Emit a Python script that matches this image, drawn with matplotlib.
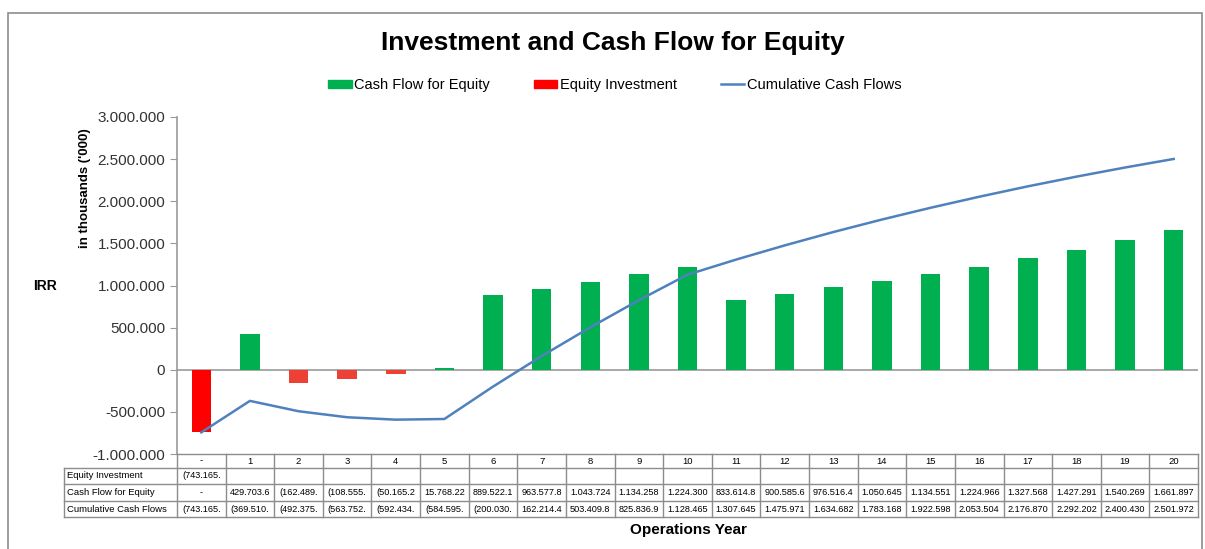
import matplotlib.pyplot as plt
import matplotlib.transforms as mtransforms
from matplotlib.patches import Patch, Rectangle
from matplotlib.lines import Line2D
from matplotlib.ticker import FuncFormatter
import numpy as np

years = ['-'] + [str(i) for i in range(1, 21)]
equity_investment = [-743165.0] + [None] * 20
cash_flow = [0.0, 429703.6, -162489.0, -108555.0, -50165.2, 15768.22, 889522.1,
             963577.8, 1043724.0, 1134258.0, 1224300.0, 833614.8, 900585.6,
             976516.4, 1050645.0, 1134551.0, 1224966.0, 1327568.0, 1427291.0,
             1540269.0, 1661897.0]
cumulative = [-743165.0, -369510.0, -492375.0, -563752.0, -592434.0, -584595.0,
              -200030.0, 162214.4, 503409.8, 825836.9, 1128465.0, 1307645.0,
              1475971.0, 1634682.0, 1783168.0, 1922598.0, 2053504.0, 2176870.0,
              2292202.0, 2400430.0, 2501972.0]
row_labels = ['Equity Investment', 'Cash Flow for Equity', 'Cumulative Cash Flows']

GREEN = '#00B050'
RED = '#FF0000'
NEG = '#EE4136'
BLUE = '#4F81BD'
GRID = '#9A9A9A'

W, H = 1205, 549
fig = plt.figure(figsize=(W / 100, H / 100), dpi=100)
plt.rcParams['font.family'] = ['Liberation Sans', 'DejaVu Sans']


def fy(py):
    return 1 - py / H


def fx(px):
    return px / W


ax = fig.add_axes([fx(177), fy(454), fx(1198) - fx(177), fy(117) - fy(454)])

x = np.arange(len(years))
eq = np.array([np.nan if v is None else v for v in equity_investment])
cf = np.array(cash_flow)
ax.bar(x, eq, width=0.4, color=RED, zorder=2)
ax.bar(x, cf, width=0.4, color=[GREEN if v >= 0 else NEG for v in cf], zorder=2)
ax.plot(x, cumulative, color=BLUE, lw=1.8, zorder=3)
ax.axhline(0, color=GRID, lw=1.2, zorder=1)

ax.set_xlim(-0.5, len(years) - 0.5)
ax.set_ylim(-1000000, 3000000)
ax.set_yticks(np.arange(-1000000, 3000001, 500000))
ax.yaxis.set_major_formatter(FuncFormatter(lambda v, p: f"{int(v):,}".replace(',', '.')))
ax.tick_params(axis='y', labelsize=11, colors=GRID, labelcolor='#333333', length=5)
ax.set_xticks([])
for s in ['top', 'right', 'bottom']:
    ax.spines[s].set_visible(False)
ax.spines['left'].set_color(GRID)
ax.spines['left'].set_linewidth(1.2)

# data table under the axis
trans = mtransforms.blended_transform_factory(ax.transData, fig.transFigure)
rows_y = [454, 468, 484, 501, 517]
lc = '#8C8C8C'
for py in rows_y:
    left = 177 if py == 454 else 64
    fig.add_artist(Line2D([fx(left), fx(1198)], [fy(py), fy(py)], color=lc, lw=1))
fig.add_artist(Line2D([fx(64), fx(64)], [fy(468), fy(517)], color=lc, lw=1))
for i in range(len(years) + 1):
    fig.add_artist(Line2D([i - 0.5, i - 0.5], [fy(454), fy(517)], color=lc, lw=1,
                          transform=trans))


def cell(v):
    if v is None:
        return ''
    if v == 0:
        return '-'
    s = f"{abs(v):,.2f}".replace(',', '.')
    if v < 0:
        s = '(' + s
    return s[:9]


for i, yr in enumerate(years):
    fig.text(i, fy(461), yr, transform=trans, ha='center', va='center', fontsize=6.8)
table = [equity_investment, cash_flow, cumulative]
for r, (lab, vals) in enumerate(zip(row_labels, table)):
    yc = fy((rows_y[r + 1] + rows_y[r + 2]) / 2)
    fig.text(fx(67), yc, lab, ha='left', va='center', fontsize=6.8)
    for i, v in enumerate(vals):
        fig.text(i, yc, cell(v), transform=trans, ha='center', va='center', fontsize=6.6)

# texts
fig.text(fx(613), fy(43), 'Investment and Cash Flow for Equity', ha='center', va='center',
         fontsize=19, fontweight='bold')
fig.text(fx(688), fy(530), 'Operations Year', ha='center', va='center',
         fontsize=11, fontweight='bold')
fig.text(fx(45), fy(286), 'IRR', ha='center', va='center', fontsize=10, fontweight='bold')
fig.text(fx(85), fy(188), "in thousands ('000)", ha='center', va='center',
         fontsize=9.5, fontweight='bold', rotation=90)

handles = [Patch(color=GREEN), Patch(color=RED), Line2D([], [], color=BLUE, lw=1.8)]
fig.legend(handles, ['Cash Flow for Equity', 'Equity Investment', 'Cumulative Cash Flows'],
           loc='center', bbox_to_anchor=(fx(615), fy(85)), ncol=3, frameon=False,
           fontsize=10.5, handlelength=1.6, handleheight=0.5, handletextpad=0.2,
           columnspacing=3.0)

fig.add_artist(Rectangle((fx(8), fy(560)), fx(1202) - fx(8), fy(13) - fy(560),
                         fill=False, edgecolor='#8C8C8C', lw=1.2, transform=fig.transFigure))

fig.savefig('out.png', dpi=100, facecolor='white')
